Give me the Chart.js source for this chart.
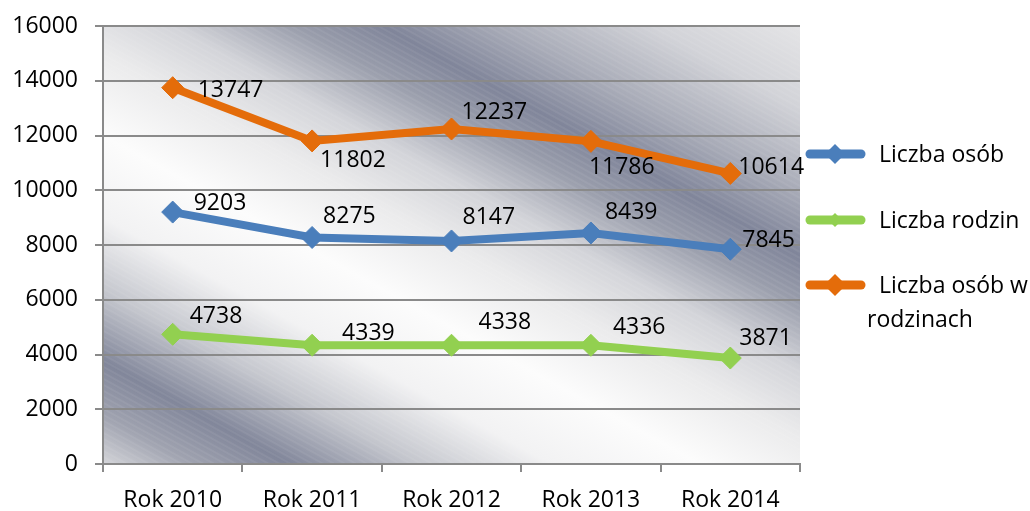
<!DOCTYPE html>
<html>
<head>
<meta charset="utf-8">
<script src="https://cdn.jsdelivr.net/npm/chart.js"></script>
<style>
  body { margin: 0; background: #fff; }
  #wrap { width: 1030px; height: 511px; position: relative; }
</style>
</head>
<body>
<div id="wrap"><canvas id="wykres"></canvas></div>
<script>
// dane
const lata = ['Rok 2010', 'Rok 2011', 'Rok 2012', 'Rok 2013', 'Rok 2014'];
const liczbaOsob = [9203, 8275, 8147, 8439, 7845];
const liczbaRodzin = [4738, 4339, 4338, 4336, 3871];
const liczbaOsobWRodzinach = [13747, 11802, 12237, 11786, 10614];
const osY = { min: 0, max: 16000, krok: 2000 };

// przesuniecia etykiet (jak w oryginale z Excela)
const etykietyDx = [
    [21, 11, 11, 14, 12],
    [17, 30, 27, 22, 9],
    [25, 8, 10, -2, 8]
];
const etykietyDy = [
    [-10, -22, -25, -22, -10],
    [-19, -13, -24, -19, -21],
    [1, 18, -18, 25, -7]
];

const FONT = '"Open Sans", "Noto Sans", sans-serif';
const SIZE = 23;

// gradient "srebrny" pod obszarem wykresu
const tloPlugin = {
    id: 'tlo',
    beforeDraw(chart) {
        const { ctx, chartArea: a } = chart;
        const s = 0.55;
        const t0 = a.top - s * a.right;
        const t1 = a.bottom - s * a.left;
        const k = (t1 - t0) / (1 + s * s);
        const g = ctx.createLinearGradient(a.right, a.top, a.right - s * k, a.top + k);
        g.addColorStop(0, '#e4e4e6');
        g.addColorStop(0.10, '#d2d3d8');
        g.addColorStop(0.20, '#a9acb8');
        g.addColorStop(0.28, '#80859a');
        g.addColorStop(0.34, '#9a9eac');
        g.addColorStop(0.42, '#d3d4d9');
        g.addColorStop(0.50, '#ebebec');
        g.addColorStop(0.60, '#fcfcfc');
        g.addColorStop(0.70, '#f2f2f3');
        g.addColorStop(0.79, '#c4c6cd');
        g.addColorStop(0.875, '#81869a');
        g.addColorStop(0.94, '#a0a3b0');
        g.addColorStop(1, '#d4d5d9');
        ctx.save();
        ctx.fillStyle = g;
        ctx.fillRect(a.left, a.top, a.right - a.left, a.bottom - a.top);
        // delikatne ukosne prazki
        ctx.beginPath();
        ctx.rect(a.left, a.top, a.right - a.left, a.bottom - a.top);
        ctx.clip();
        ctx.strokeStyle = 'rgba(255,255,255,0.06)';
        ctx.lineWidth = 2;
        for (let c = t0 - 20; c < t1 + 20; c += 6) {
            ctx.beginPath();
            ctx.moveTo(a.left, c + s * a.left);
            ctx.lineTo(a.right, c + s * a.right);
            ctx.stroke();
        }
        ctx.restore();
    }
};

const etykietyPlugin = {
    id: 'etykiety',
    afterDatasetsDraw(chart) {
        const ctx = chart.ctx;
        ctx.save();
        ctx.font = SIZE + 'px ' + FONT;
        ctx.fillStyle = '#000';
        ctx.textAlign = 'left';
        ctx.textBaseline = 'alphabetic';
        chart.data.datasets.forEach((ds, i) => {
            const meta = chart.getDatasetMeta(i);
            meta.data.forEach((pt, j) => {
                ctx.fillText(String(ds.data[j]), pt.x + etykietyDx[i][j], pt.y + etykietyDy[i][j] + 8);
            });
        });
        ctx.restore();
    }
};

const legendaPlugin = {
    id: 'legenda',
    afterDraw(chart) {
        const ctx = chart.ctx;
        const rzedy = [154, 220, 285];
        const rozmiary = [10, 7, 11];
        ctx.save();
        chart.data.datasets.forEach((ds, i) => {
            const y = rzedy[i];
            ctx.strokeStyle = ds.borderColor;
            ctx.lineWidth = 9;
            ctx.lineCap = 'round';
            ctx.beginPath();
            ctx.moveTo(810, y);
            ctx.lineTo(861, y);
            ctx.stroke();
            const r = rozmiary[i];
            ctx.fillStyle = ds.borderColor;
            ctx.beginPath();
            ctx.moveTo(835 - r, y);
            ctx.lineTo(835, y - r);
            ctx.lineTo(835 + r, y);
            ctx.lineTo(835, y + r);
            ctx.closePath();
            ctx.fill();

            ctx.fillStyle = '#000';
            ctx.font = SIZE + 'px ' + FONT;
            ctx.textAlign = 'left';
            ctx.textBaseline = 'alphabetic';
            if (i === 2) {
                ctx.fillText('Liczba osób w', 879, y + 8);
                ctx.fillText('rodzinach', 867, y + 42);
            } else {
                ctx.fillText(ds.label, 879, y + 8);
            }
        });
        ctx.restore();
    }
};

function seria(label, data, kolor) {
    return {
        label: label,
        data: data,
        borderColor: kolor,
        backgroundColor: kolor,
        borderWidth: 8,
        pointStyle: 'rectRot',
        pointRadius: 11,
        pointBorderWidth: 1,
        pointBackgroundColor: kolor,
        pointBorderColor: kolor,
        tension: 0,
        fill: false,
        clip: false
    };
}

new Chart(document.getElementById('wykres'), {
    type: 'line',
    data: {
        labels: lata,
        datasets: [
            seria('Liczba osób', liczbaOsob, '#4a7ebb'),
            seria('Liczba rodzin', liczbaRodzin, '#92d050'),
            seria('Liczba osób w rodzinach', liczbaOsobWRodzinach, '#e46c0a')
        ]
    },
    options: {
        responsive: true,
        maintainAspectRatio: false,
        animation: false,
        events: [],
        layout: { autoPadding: false, padding: { top: 26, right: 230, left: 0, bottom: 0 } },
        plugins: {
            legend: { display: false },
            tooltip: { enabled: false }
        },
        scales: {
            x: {
                offset: true,
                grid: {
                    offset: true,
                    drawOnChartArea: false,
                    color: '#8a8a8a',
                    lineWidth: 2,
                    tickLength: 8
                },
                border: { color: '#8a8a8a', width: 2 },
                ticks: {
                    color: '#000',
                    font: { family: FONT, size: SIZE },
                    padding: 15,
                    maxRotation: 0
                },
                afterFit(s) { s.height = 47; s.paddingLeft = 0; s.paddingRight = 0; }
            },
            y: {
                min: osY.min,
                max: osY.max,
                grid: {
                    color: '#8a8a8a',
                    lineWidth: 2,
                    tickLength: 8
                },
                border: { color: '#8a8a8a', width: 2 },
                ticks: {
                    stepSize: osY.krok,
                    color: '#000',
                    font: { family: FONT, size: SIZE },
                    padding: 17,
                    callback: v => String(v)
                },
                afterFit(s) { s.width = 103; s.paddingTop = 0; s.paddingBottom = 0; }
            }
        }
    },
    plugins: [tloPlugin, etykietyPlugin, legendaPlugin]
});
</script>
</body>
</html>
